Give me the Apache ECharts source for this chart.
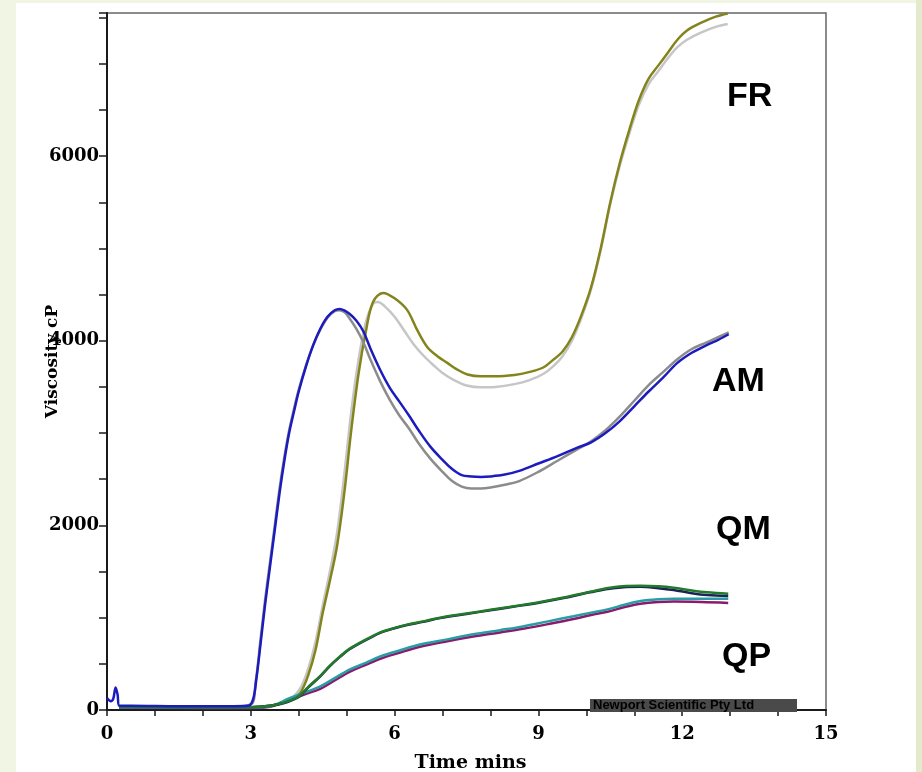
<!DOCTYPE html>
<html>
<head>
<meta charset="utf-8">
<title>Viscosity profiles</title>
<script src="https://cdn.jsdelivr.net/npm/echarts@6/dist/echarts.min.js"></script>
<style>
  html, body { margin: 0; padding: 0; }
  body { width: 922px; height: 772px; background: #f1f5e3; position: relative; overflow: hidden; }
  #panel { position: absolute; left: 16px; top: 3px; width: 900px; height: 769px; background: #ffffff; }
  #strip { position: absolute; left: 916px; top: 0; width: 6px; height: 772px; background: #e3ebcc; }
  #chart { position: absolute; left: 0; top: 0; width: 922px; height: 772px; }
</style>
</head>
<body>
<div id="panel"></div>
<div id="strip"></div>
<div id="chart"></div>
<script>
// Axis labels shown on the ticks
const xLabelTicks = [0, 3, 6, 9, 12, 15];
const yLabelTicks = [0, 2000, 4000, 6000];

// FR pair (olive and light grey)
const frOliveT = [0.25, 1.5, 3.0, 3.4, 3.7, 3.9, 4.05, 4.2, 4.35, 4.5, 4.65, 4.8, 4.95, 5.1, 5.25, 5.4, 5.55, 5.76, 6.0, 6.26, 6.47, 6.68, 6.9, 7.1, 7.3, 7.52, 7.8, 8.1, 8.5, 8.8, 9.1, 9.3, 9.5, 9.7, 9.9, 10.1, 10.3, 10.5, 10.7, 10.9, 11.1, 11.3, 11.5, 11.7, 11.9, 12.1, 12.4, 12.7, 12.95];
const frOliveV = [35, 30, 30, 45, 80, 130, 200, 380, 650, 1050, 1400, 1780, 2350, 3050, 3650, 4100, 4420, 4518, 4460, 4334, 4117, 3933, 3830, 3760, 3690, 3635, 3615, 3615, 3630, 3660, 3710, 3790, 3880, 4040, 4280, 4580, 5000, 5500, 5930, 6290, 6610, 6840, 6980, 7120, 7260, 7360, 7445, 7510, 7545];
const frGreyT = [0.25, 1.5, 3.0, 3.4, 3.7, 3.9, 4.05, 4.2, 4.35, 4.5, 4.65, 4.8, 4.95, 5.1, 5.25, 5.4, 5.55, 5.65, 5.8, 6.0, 6.2, 6.4, 6.6, 6.8, 7.0, 7.25, 7.5, 7.8, 8.1, 8.5, 8.8, 9.1, 9.3, 9.5, 9.7, 9.9, 10.1, 10.3, 10.5, 10.7, 10.9, 11.1, 11.3, 11.5, 11.7, 11.9, 12.1, 12.4, 12.7, 12.95];
const frGreyV = [35, 30, 30, 45, 90, 150, 250, 450, 740, 1130, 1500, 1920, 2550, 3250, 3800, 4200, 4400, 4420, 4370, 4260, 4110, 3960, 3840, 3740, 3650, 3570, 3515, 3495, 3500, 3530, 3570, 3640, 3720, 3830, 4000, 4250, 4560, 4980, 5480, 5900, 6250, 6560, 6780, 6920, 7060, 7180, 7260, 7340, 7400, 7430];

// AM pair (blue and grey)
const amBlueT = [0, 0.08, 0.13, 0.18, 0.22, 0.26, 0.5, 1.5, 2.5, 2.95, 3.05, 3.12, 3.2, 3.3, 3.4, 3.5, 3.6, 3.7, 3.8, 3.9, 4.0, 4.15, 4.3, 4.45, 4.6, 4.75, 4.85, 4.95, 5.05, 5.2, 5.35, 5.5, 5.7, 5.9, 6.1, 6.3, 6.5, 6.75, 7.0, 7.2, 7.4, 7.6, 7.8, 8.0, 8.3, 8.6, 9.0, 9.4, 9.8, 10.1, 10.4, 10.7, 11.0, 11.3, 11.6, 11.9, 12.2, 12.5, 12.75, 12.97];
const amBlueV = [130, 95, 120, 245, 170, 45, 45, 40, 40, 45, 120, 350, 700, 1150, 1550, 1950, 2350, 2700, 3000, 3230, 3450, 3720, 3950, 4130, 4260, 4330, 4345, 4330, 4295, 4220, 4100, 3910, 3683, 3490, 3340, 3190, 3030, 2850, 2710, 2610, 2545, 2530, 2525, 2530, 2550, 2590, 2670, 2750, 2840, 2900, 3000, 3130, 3290, 3450, 3600, 3760, 3870, 3950, 4010, 4070];
const amGreyT = [0.26, 1.5, 2.5, 3.0, 3.1, 3.2, 3.3, 3.4, 3.5, 3.6, 3.7, 3.8, 3.9, 4.0, 4.15, 4.3, 4.45, 4.6, 4.75, 4.85, 4.95, 5.05, 5.2, 5.35, 5.5, 5.7, 5.9, 6.1, 6.3, 6.5, 6.75, 7.0, 7.2, 7.4, 7.6, 7.8, 8.0, 8.3, 8.6, 9.0, 9.4, 9.8, 10.1, 10.4, 10.7, 11.0, 11.3, 11.6, 11.9, 12.2, 12.5, 12.75, 12.97];
const amGreyV = [40, 35, 35, 60, 300, 750, 1200, 1600, 2000, 2400, 2740, 3030, 3260, 3470, 3730, 3950, 4120, 4250, 4320, 4330, 4310, 4250, 4130, 3980, 3790, 3560, 3360, 3190, 3050, 2890, 2720, 2580, 2480, 2420, 2400, 2400, 2410, 2440, 2480, 2580, 2700, 2820, 2910, 3030, 3180, 3350, 3520, 3660, 3800, 3910, 3980, 4040, 4090];

// QM pair (green and navy)
const qmGreenT = [0.25, 2.0, 3.0, 3.4, 3.7, 3.9, 4.03, 4.2, 4.45, 4.65, 4.86, 5.05, 5.28, 5.5, 5.7, 6.0, 6.26, 6.6, 6.95, 7.5, 8.0, 8.5, 9.04, 9.5, 10.08, 10.56, 11.13, 11.5, 11.82, 12.2, 12.52, 12.96];
const qmGreenV = [35, 30, 30, 45, 80, 120, 160, 250, 370, 480, 580, 660, 730, 790, 840, 890, 925, 960, 1000, 1045, 1085, 1125, 1170, 1215, 1280, 1330, 1345, 1340, 1325, 1295, 1275, 1260];
const qmNavyT = [0.25, 2.0, 3.0, 3.4, 3.7, 3.9, 4.03, 4.2, 4.45, 4.65, 4.86, 5.05, 5.28, 5.5, 5.7, 6.0, 6.26, 6.6, 6.95, 7.5, 8.0, 8.5, 9.04, 9.5, 10.08, 10.56, 11.13, 11.5, 11.82, 12.2, 12.52, 12.96];
const qmNavyV = [35, 30, 30, 45, 75, 115, 155, 245, 365, 475, 575, 655, 725, 785, 835, 885, 920, 955, 995, 1040, 1080, 1120, 1165, 1210, 1275, 1320, 1335, 1320, 1300, 1265, 1245, 1235];

// QP pair (teal and purple)
const qpTealT = [0.25, 2.0, 3.0, 3.4, 3.82, 4.1, 4.45, 4.75, 5.07, 5.4, 5.7, 6.1, 6.53, 7.1, 7.64, 8.2, 8.68, 9.2, 9.73, 10.1, 10.44, 10.8, 11.13, 11.5, 11.82, 12.4, 12.96];
const qpTealV = [30, 25, 25, 40, 130, 185, 255, 345, 440, 510, 580, 645, 710, 765, 820, 865, 905, 960, 1015, 1055, 1090, 1140, 1180, 1200, 1205, 1205, 1205];
const qpPurpleT = [0.25, 2.0, 3.0, 3.4, 3.82, 4.1, 4.45, 4.75, 5.07, 5.4, 5.7, 6.1, 6.53, 7.1, 7.64, 8.2, 8.68, 9.2, 9.73, 10.1, 10.44, 10.8, 11.13, 11.5, 11.82, 12.4, 12.96];
const qpPurpleV = [25, 20, 20, 35, 110, 165, 230, 320, 415, 490, 555, 620, 685, 745, 795, 840, 880, 930, 985, 1030, 1065, 1115, 1150, 1170, 1175, 1170, 1160];

function pairs(ts, vs) {
  return ts.map((t, i) => [t, vs[i]]);
}

function curve(name, ts, vs, color) {
  return {
    name: name,
    type: 'line',
    data: pairs(ts, vs),
    showSymbol: false,
    smooth: 0.35,
    lineStyle: { color: color, width: 2.5 },
    itemStyle: { color: color },
    z: 3
  };
}

const chart = echarts.init(document.getElementById('chart'), null, { renderer: 'canvas' });

const serifBold = { fontFamily: 'DejaVu Serif', fontWeight: 'bold', color: '#000' };

chart.setOption({
  animation: false,
  backgroundColor: 'transparent',
  grid: {
    left: 107, right: 96, top: 13, bottom: 62,
    outerBoundsMode: 'none',
    containLabel: false,
    show: true,
    borderColor: '#666',
    borderWidth: 1.5,
    backgroundColor: 'transparent'
  },
  xAxis: {
    type: 'value',
    min: 0, max: 15, interval: 1,
    name: 'Time mins',
    nameLocation: 'middle',
    nameGap: 44,
    nameMoveOverlap: false,
    nameTextStyle: Object.assign({ fontSize: 19, padding: [0, 0, 0, 8] }, serifBold),
    axisLine: { show: true, lineStyle: { color: '#1a1a1a', width: 2 } },
    axisTick: { show: true, inside: false, length: 6, lineStyle: { color: '#1a1a1a', width: 1.5 } },
    axisLabel: Object.assign({
      fontSize: 18, margin: 15,
      formatter: v => (xLabelTicks.indexOf(v) >= 0 ? String(v) : '')
    }, serifBold),
    splitLine: { show: false }
  },
  yAxis: {
    type: 'value',
    min: 0, max: 7550, interval: 500,
    name: 'Viscosity cP',
    nameLocation: 'middle',
    nameGap: 46,
    nameMoveOverlap: false,
    nameRotate: 90,
    nameTextStyle: Object.assign({ fontSize: 17 }, serifBold),
    axisLine: { show: true, lineStyle: { color: '#1a1a1a', width: 2 } },
    axisTick: { show: true, inside: false, length: 8, lineStyle: { color: '#1a1a1a', width: 1.5 } },
    axisLabel: Object.assign({
      fontSize: 18, margin: 8,
      formatter: v => (yLabelTicks.indexOf(v) >= 0 ? String(v) : '')
    }, serifBold),
    splitLine: { show: false }
  },
  series: [
    curve('FR grey', frGreyT, frGreyV, '#c6c6c6'),
    curve('FR olive', frOliveT, frOliveV, '#84841c'),
    curve('AM grey', amGreyT, amGreyV, '#8c8c8c'),
    curve('QP purple', qpPurpleT, qpPurpleV, '#8a1a6e'),
    curve('QP teal', qpTealT, qpTealV, '#2a9ca4'),
    curve('QM navy', qmNavyT, qmNavyV, '#1a2458'),
    curve('QM green', qmGreenT, qmGreenV, '#237a2a'),
    curve('AM blue', amBlueT, amBlueV, '#1c1cbe')
  ],
  graphic: [
    { type: 'text', left: 727, top: 80, style: { text: 'FR', fontFamily: 'Liberation Sans', fontWeight: 'bold', fontSize: 34, fill: '#000' } },
    { type: 'text', left: 712, top: 365, style: { text: 'AM', fontFamily: 'Liberation Sans', fontWeight: 'bold', fontSize: 34, fill: '#000' } },
    { type: 'text', left: 716, top: 513, style: { text: 'QM', fontFamily: 'Liberation Sans', fontWeight: 'bold', fontSize: 34, fill: '#000' } },
    { type: 'text', left: 722, top: 640, style: { text: 'QP', fontFamily: 'Liberation Sans', fontWeight: 'bold', fontSize: 34, fill: '#000' } },
    {
      type: 'text', left: 590, top: 699, z: 10,
      style: {
        text: 'Newport Scientific Pty Ltd',
        fontFamily: 'Liberation Sans', fontWeight: 'bold', fontSize: 13,
        fill: '#000', backgroundColor: '#4a4a4a',
        padding: [0, 3, 0, 3], width: 201
      }
    }
  ]
});
</script>
</body>
</html>
